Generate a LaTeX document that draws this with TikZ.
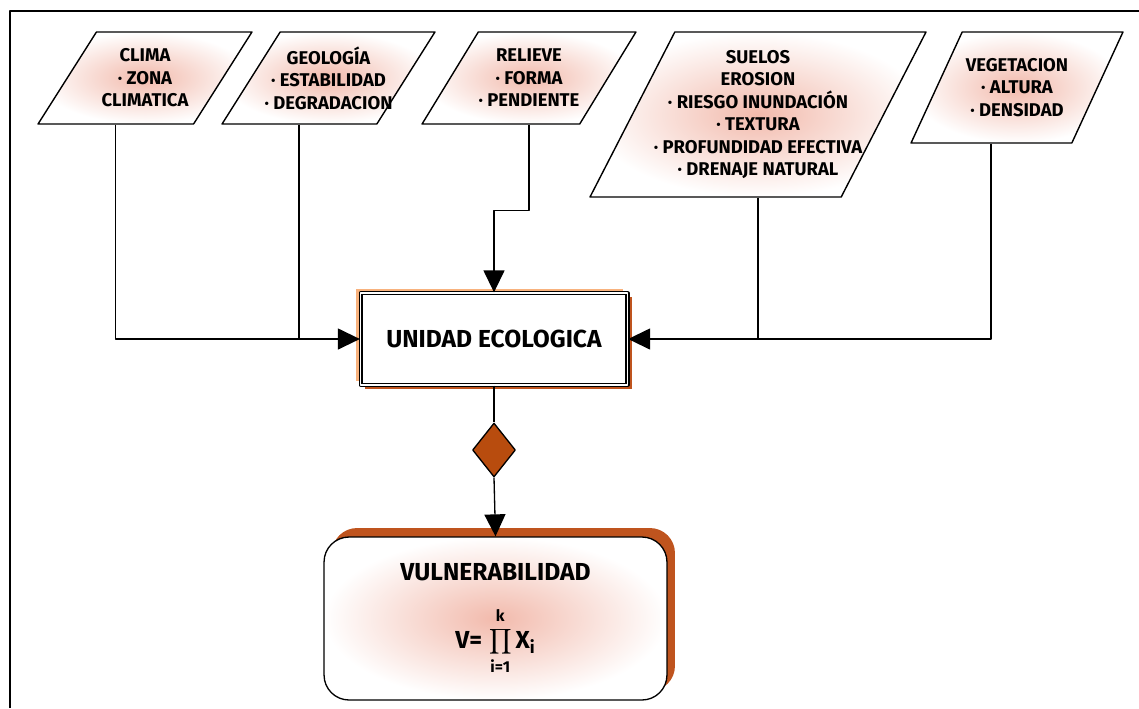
\documentclass[tikz,border=0pt]{standalone}
\usepackage{fontspec}
\setmainfont{Fira Sans}
\usetikzlibrary{arrows.meta,shapes.geometric,shadows,positioning}
\definecolor{rosa}{RGB}{242,186,172}
\definecolor{naranja}{RGB}{191,84,30}
\definecolor{naranjaclaro}{RGB}{248,178,125}
\definecolor{rombo}{RGB}{184,76,14}
\tikzset{
  entrada/.style={trapezium, trapezium stretches=true, draw, line width=0.8pt, inner color=rosa, outer color=white},
  textoent/.style={align=center, font=\fontsize{10.5}{12.8}\selectfont\bfseries},
  titulo/.style={font=\fontsize{14}{16}\selectfont\bfseries},
  flecha/.style={-{Triangle[length=0.44cm,width=0.42cm]}},
}

\begin{document}
\begin{tikzpicture}[x=0.02cm,y=-0.02cm,line width=0.75pt,line join=round]
  \useasboundingbox (0,0) rectangle (1139,708);
  \draw[line width=1.2pt] (10,708) -- (10,11) -- (1139,11);

  \node[entrada, trapezium left angle=59, trapezium right angle=121, minimum width=4.28cm, minimum height=1.84cm,
        label={[textoent]center:{CLIMA\\· ZONA\\CLIMATICA}}] (clima) at (145,78) {};
  \node[entrada, trapezium left angle=59, trapezium right angle=121, minimum width=4.26cm, minimum height=1.84cm,
        label={[textoent]center:{GEOLOGÍA\\· ESTABILIDAD\\· DEGRADACION}}] (geologia) at (328.5,78) {};
  \node[entrada, trapezium left angle=61, trapezium right angle=119, minimum width=4.28cm, minimum height=1.84cm,
        label={[textoent]center:{RELIEVE\\· FORMA\\· PENDIENTE}}] (relieve) at (529,78) {};
  \node[entrada, trapezium left angle=63, trapezium right angle=117, minimum width=6.72cm, minimum height=3.3cm,
        label={[textoent]center:{SUELOS\\EROSION\\· RIESGO INUNDACIÓN\\· TEXTURA\\· PROFUNDIDAD EFECTIVA\\· DRENAJE NATURAL}}] (suelos) at (758,114.5) {};
  \node[entrada, trapezium left angle=65, trapezium right angle=115, minimum width=4.24cm, minimum height=2.22cm,
        label={[textoent]center:{VEGETACION\\· ALTURA\\· DENSIDAD}}] (vegetacion) at (1017,87.5) {};

  \node[titulo, draw, double, double distance=0.8pt, fill=white, minimum width=5.34cm, minimum height=1.84cm,
        general shadow={fill=naranjaclaro, shadow xshift=-2.5pt, shadow yshift=2.5pt},
        general shadow={fill=naranja, shadow xshift=2.5pt, shadow yshift=-2.5pt}] (unidad) at (494,339) {UNIDAD ECOLOGICA};
  \node[diamond, draw, fill=rombo, inner sep=0pt, minimum width=0.86cm, minimum height=1.08cm] (decision) at (494,450) {};
  \node[titulo, draw, rounded corners=0.5cm, inner color=rosa, outer color=white, minimum width=6.86cm, minimum height=3.26cm,
        general shadow={fill=naranja, shadow xshift=0.16cm, shadow yshift=0.18cm}, align=center] (vulner) at (495.5,618.5)
        {VULNERABILIDAD\\[5mm]V=\;$\displaystyle\prod_{\raisebox{-2pt}{\small i=1}}^{\raisebox{2pt}{\small k}}$\,X\textsubscript{i}};

  \draw[flecha] (clima.bottom side) |- (unidad.west);
  \draw (geologia.bottom side) -- (geologia.bottom side |- unidad.west);
  \draw[flecha] (relieve.south) -- ++(0,86) -| (unidad.north);
  \draw (suelos.south) -- (suelos.south |- unidad.east);
  \draw[flecha] (vegetacion.bottom side) |- (unidad.east);
  \draw (unidad.south) -- (decision.north);
  \draw[flecha] (decision.south) -- (vulner.north);
\end{tikzpicture}
\end{document}
